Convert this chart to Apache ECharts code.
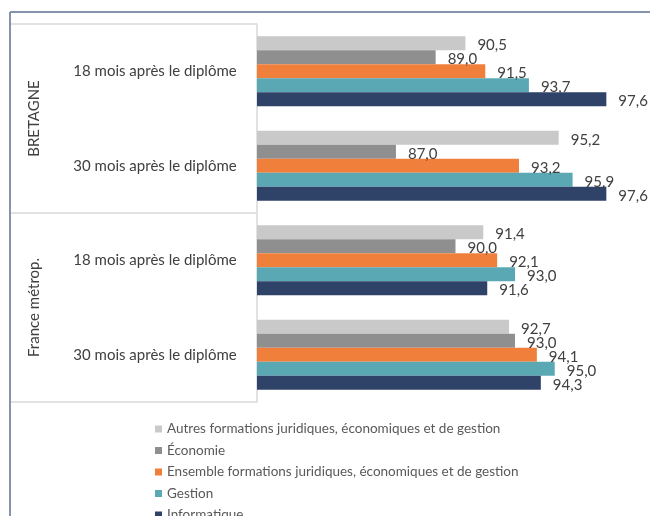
<!DOCTYPE html>
<html>
<head>
<meta charset="utf-8">
<script src="https://cdn.jsdelivr.net/npm/echarts@6/dist/echarts.min.js"></script>
<style>
  html, body { margin: 0; padding: 0; background: #fff; }
  #main { width: 650px; height: 516px; }
</style>
</head>
<body>
<div id="main"></div>
<script>
// categories (top to bottom)
const periods = ['18 mois après le diplôme', '30 mois après le diplôme', '18 mois après le diplôme', '30 mois après le diplôme'];
const regions = ['BRETAGNE', 'France métrop.'];

const seriesNames = [
  'Autres formations juridiques, économiques et de gestion',
  'Économie',
  'Ensemble formations juridiques, économiques et de gestion',
  'Gestion',
  'Informatique'
];
const autres = [90.5, 95.2, 91.4, 92.7];
const economie = [89.0, 87.0, 90.0, 93.0];
const ensemble = [91.5, 93.2, 92.1, 94.1];
const gestion = [93.7, 95.9, 93.0, 95.0];
const informatique = [97.6, 97.6, 91.6, 94.3];
const colors = ['#c9c9c9', '#8f8f8f', '#f07f3c', '#5ba8b5', '#2f4268'];

const FONT = 'Lato';

let chartDom = document.getElementById('main');
let myChart = echarts.init(chartDom);

const values = [autres, economie, ensemble, gestion, informatique];
const series = values.map((data, i) => ({
  name: seriesNames[i],
  type: 'bar',
  barWidth: 14,
  barGap: '0%',
  itemStyle: { color: colors[i] },
  label: {
    show: true,
    position: 'right',
    distance: 12,
    offset: [0, 2],
    fontFamily: FONT,
    fontSize: 15,
    color: '#404040',
    formatter: p => p.value.toFixed(1).replace('.', ',')
  },
  data: data
}));

let option = {
  animation: false,
  backgroundColor: '#fff',
  grid: { left: 257, top: 24, height: 378, right: 0, containLabel: false },
  legend: {
    orient: 'vertical',
    left: 155,
    top: 422,
    height: 150,
    padding: 0,
    icon: 'rect',
    itemWidth: 7,
    itemHeight: 7,
    itemGap: 7.5,
    itemTextGap: 5,
    textStyle: { fontFamily: FONT, fontSize: 13.5, lineHeight: 13.5, color: '#595959' },
    data: seriesNames
  },
  xAxis: {
    type: 'value',
    min: 80,
    max: 99.8,
    show: false
  },
  yAxis: [
    {
      type: 'category',
      inverse: true,
      data: periods,
      axisLine: { show: true, lineStyle: { color: '#d9d9d9', width: 1.5 } },
      axisTick: { show: false },
      axisLabel: {
        align: 'center',
        margin: 102,
        fontFamily: FONT,
        fontSize: 15,
        color: '#404040'
      }
    },
    {
      type: 'category',
      inverse: true,
      position: 'left',
      offset: 247,
      data: regions,
      axisLine: { show: true, lineStyle: { color: '#d9d9d9', width: 1.5 } },
      axisTick: { show: true, inside: true, length: 247, lineStyle: { color: '#d9d9d9', width: 1.5 } },
      axisLabel: {
        rotate: 90,
        margin: -32,
        fontFamily: FONT,
        fontSize: 15,
        color: '#404040'
      }
    }
  ],
  graphic: [
    { type: 'line', shape: { x1: 10, y1: 12, x2: 650, y2: 12 }, style: { stroke: '#8593ad', lineWidth: 2 }, z: 100 },
    { type: 'line', shape: { x1: 10, y1: 12, x2: 10, y2: 516 }, style: { stroke: '#8593ad', lineWidth: 2 }, z: 100 }
  ],
  series: series
};

option && myChart.setOption(option);
window.addEventListener('resize', () => {
  myChart.resize();
});
</script>
</body>
</html>
